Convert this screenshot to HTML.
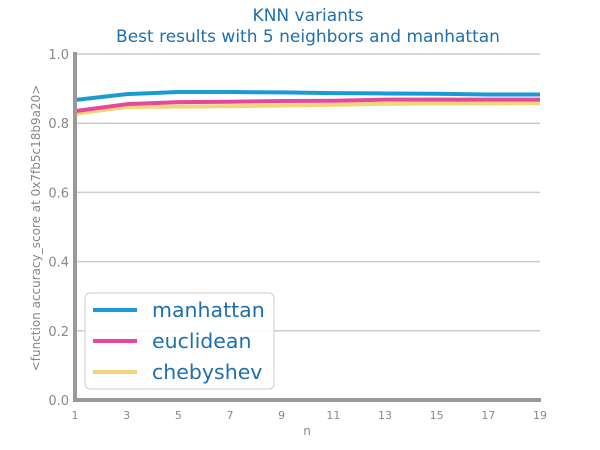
<!DOCTYPE html>
<html><head><meta charset="utf-8"><style>
body{margin:0;background:#fff;font-family:"Liberation Sans","DejaVu Sans",sans-serif}
svg{display:block}
</style></head><body>
<svg id="chart" width="600" height="450" xmlns="http://www.w3.org/2000/svg" font-family="DejaVu Sans, Liberation Sans, sans-serif">
<text x="308" y="21" text-anchor="middle" font-size="17" fill="#1f6fad">KNN variants</text>
<text x="308" y="42" text-anchor="middle" font-size="17" fill="#1f6fad">Best results with 5 neighbors and manhattan</text>
<g id="grid"></g><g id="series"></g><g id="axes"></g><g id="legend"></g>
</svg>
<script>
const xValues=[1,3,5,7,9,11,13,15,17,19];
const manhattan=[0.867,0.884,0.890,0.890,0.889,0.887,0.886,0.885,0.883,0.883];
const euclidean=[0.835,0.855,0.861,0.862,0.864,0.865,0.868,0.868,0.868,0.868];
const chebyshev=[0.827,0.847,0.848,0.849,0.851,0.853,0.856,0.857,0.857,0.858];
const yTicks=[0,0.2,0.4,0.6,0.8,1.0];
const xTicks=[1,3,5,7,9,11,13,15,17,19];
const seriesNames=["manhattan","euclidean","chebyshev"];
const NS="http://www.w3.org/2000/svg";
const X=v=>75+(v-1)*(540-75)/18;
const Y=v=>400-v*346;
function mk(tag,attrs,parent,text){const e=document.createElementNS(NS,tag);for(const k in attrs)e.setAttribute(k,attrs[k]);if(text!=null)e.textContent=text;parent.appendChild(e);return e;}
const grid=document.getElementById('grid'),axes=document.getElementById('axes'),ser=document.getElementById('series'),leg=document.getElementById('legend');
yTicks.forEach(t=>{
 const l=mk('line',{x1:75,x2:540,y1:Y(t),y2:Y(t),stroke:'#cccccc','stroke-width':1.5},grid);
 
 
 const tx=mk('text',{x:69,y:Y(t)+5,'text-anchor':'end','font-size':13,fill:'#888'},axes,t.toFixed(1));
 
 
});
xTicks.forEach(t=>{
 const tx=mk('text',{x:X(t),y:419,'text-anchor':'middle','font-size':11,fill:'#888'},axes,String(t));
 
 
});
const ya=mk('line',{x1:75,x2:75,y1:52,y2:402,stroke:'#999','stroke-width':4},axes);


const xa=mk('line',{x1:73,x2:541,y1:400,y2:400,stroke:'#999','stroke-width':4},axes);


const xt=mk('text',{x:307,y:435,'text-anchor':'middle','font-size':12,fill:'#888'},axes,'n');


const yt=mk('text',{x:0,y:0,'text-anchor':'middle','font-size':12,fill:'#888',transform:'translate(40,228) rotate(-90)'},axes,'<function accuracy_score at 0x7fb5c18b9a20>');


const colors=['#1a9ad6','#e8479a','#f0d67a'];
[chebyshev,euclidean,manhattan].forEach((d,i)=>{
 const c=[colors[2],colors[1],colors[0]][i];
 const p=mk('polyline',{points:d.map((v,j)=>X(xValues[j])+','+Y(v)).join(' '),fill:'none',stroke:c,'stroke-width':4,'stroke-linejoin':'round'},ser);
 
 
});
const box=mk('rect',{x:85,y:293,width:189,height:96,rx:5,fill:'#fff','fill-opacity':0.9,stroke:'#ccc'},leg);


seriesNames.forEach((n,i)=>{
 const y=310+i*31;
 const l=mk('line',{x1:93,x2:137,y1:y,y2:y,stroke:colors[i],'stroke-width':4},leg);
 
 
 const t=mk('text',{x:152,y:y+7,'font-size':20.5,fill:'#1f6fad'},leg,n);
 
 
});
</script>
</body></html>
